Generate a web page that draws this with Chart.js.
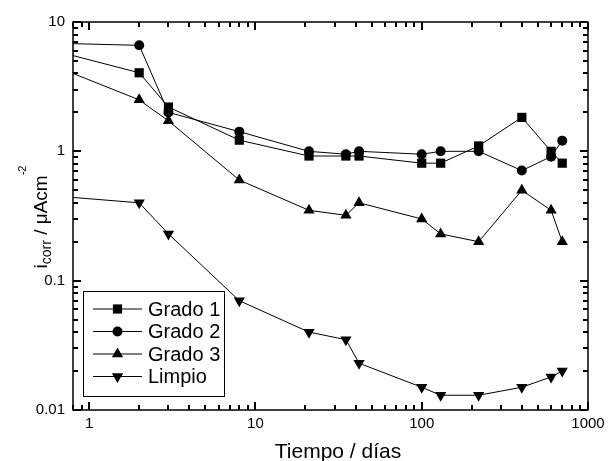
<!DOCTYPE html>
<html>
<head>
<meta charset="utf-8">
<script src="https://cdn.jsdelivr.net/npm/chart.js@4/dist/chart.umd.min.js"></script>
<style>
  html, body { margin: 0; padding: 0; background: #fff; }
  #grafico { display: block; }
</style>
</head>
<body>
<canvas id="grafico" width="610" height="461"></canvas>
<script>
// tiempo en días (el primer punto queda en el borde del eje)
const dias = [0.8, 2, 3, 8, 21, 35, 42, 100, 130, 220, 400, 600, 700];

const grado1 = [5.5, 4.05, 2.2, 1.22, 0.92, 0.92, 0.92, 0.81, 0.81, 1.1, 1.83, 1.0, 0.81];
const grado2 = [6.8, 6.6, 2.0, 1.42, 1.0, 0.95, 1.0, 0.95, 1.0, 1.0, 0.71, 0.91, 1.21];
const grado3 = [4.0, 2.5, 1.72, 0.6, 0.35, 0.32, 0.4, 0.3, 0.23, 0.2, 0.5, 0.35, 0.2];
const limpio = [0.44, 0.40, 0.23, 0.07, 0.04, 0.035, 0.023, 0.015, 0.013, 0.013, 0.015, 0.018, 0.02];

const etiquetas = ['Grado 1', 'Grado 2', 'Grado 3', 'Limpio'];
const ejeX = { min: 0.8, max: 1000, titulo: 'Tiempo / días' };
const ejeY = { min: 0.01, max: 10 };

const FUENTE = "'Liberation Sans', Arial, sans-serif";

const esDecada = v => {
    const l = Math.log10(v);
    return Math.abs(l - Math.round(l)) < 1e-9;
};

// valores 1..9 x 10^n dentro del rango, para las marcas del eje
function marcasLog(min, max) {
    const out = [];
    for (let e = Math.floor(Math.log10(min)); e <= Math.ceil(Math.log10(max)); e++) {
        for (let k = 1; k <= 9; k++) {
            const v = k * Math.pow(10, e);
            if (v >= min * 0.9999 && v <= max * 1.0001) out.push({ v, mayor: k === 1 });
        }
    }
    return out;
}

// estilo de marcador por serie
const marcadores = [
    { estilo: 'rect', radio: 6.5, rot: 0 },
    { estilo: 'circle', radio: 5, rot: 0 },
    { estilo: 'triangle', radio: 6.5, rot: 0 },
    { estilo: 'triangle', radio: 6.5, rot: 180 }
];

function serie(label, valores, m) {
    return {
        label,
        data: dias.map((d, i) => ({ x: d, y: valores[i] })),
        showLine: true,
        borderColor: '#000',
        borderWidth: 1,
        backgroundColor: '#000',
        pointBackgroundColor: '#000',
        pointBorderColor: '#000',
        pointBorderWidth: 0,
        pointStyle: m.estilo,
        pointRotation: m.rot,
        pointRadius: dias.map((d, i) => i === 0 ? 0 : m.radio),
        pointHoverRadius: 0,
        tension: 0
    };
}

function dibujaMarcador(ctx, m, x, y) {
    ctx.beginPath();
    if (m.estilo === 'circle') {
        ctx.arc(x, y, m.radio, 0, Math.PI * 2);
    } else if (m.estilo === 'rect') {
        const s = m.radio * Math.SQRT1_2;
        ctx.rect(x - s, y - s, 2 * s, 2 * s);
    } else {
        let a = m.rot * Math.PI / 180;
        ctx.moveTo(x + Math.sin(a) * m.radio, y - Math.cos(a) * m.radio);
        a += Math.PI * 2 / 3;
        ctx.lineTo(x + Math.sin(a) * m.radio, y - Math.cos(a) * m.radio);
        a += Math.PI * 2 / 3;
        ctx.lineTo(x + Math.sin(a) * m.radio, y - Math.cos(a) * m.radio);
        ctx.closePath();
    }
    ctx.fill();
}

const extras = {
    id: 'extras',
    afterDraw(chart) {
        const ctx = chart.ctx;
        const a = chart.chartArea;
        const xs = chart.scales.x, ys = chart.scales.y;
        ctx.save();
        ctx.strokeStyle = '#000';
        ctx.fillStyle = '#000';

        // marcas hacia dentro en los cuatro lados
        ctx.lineWidth = 2;
        ctx.lineCap = 'butt';
        marcasLog(ejeX.min, ejeX.max).forEach(t => {
            const px = Math.round(xs.getPixelForValue(t.v));
            const len = t.mayor ? 8 : 5;
            ctx.beginPath();
            ctx.moveTo(px, a.bottom); ctx.lineTo(px, a.bottom - len);
            ctx.moveTo(px, a.top); ctx.lineTo(px, a.top + len);
            ctx.stroke();
        });
        marcasLog(ejeY.min, ejeY.max).forEach(t => {
            const py = Math.round(ys.getPixelForValue(t.v));
            const len = t.mayor ? 8 : 5;
            ctx.beginPath();
            ctx.moveTo(a.left, py); ctx.lineTo(a.left + len, py);
            ctx.moveTo(a.right, py); ctx.lineTo(a.right - len, py);
            ctx.stroke();
        });

        // marco
        ctx.lineWidth = 1.5;
        ctx.strokeRect(a.left, a.top, a.right - a.left, a.bottom - a.top);

        // título eje X
        ctx.font = `21px ${FUENTE}`;
        ctx.textAlign = 'center';
        ctx.textBaseline = 'middle';
        ctx.fillText(ejeX.titulo, 338, 452);

        // título eje Y: i_corr / μAcm^-2
        const partes = [
            { t: 'i', f: 19, dy: 0 },
            { t: 'corr', f: 14, dy: 4 },
            { t: ' / μAcm', f: 19, dy: 0 },
            { t: '-2', f: 11, dy: -21 }
        ];
        let total = 0;
        partes.forEach(p => { ctx.font = `${p.f}px ${FUENTE}`; p.w = ctx.measureText(p.t).width; total += p.w; });
        ctx.translate(47, 217 + total / 2);
        ctx.rotate(-Math.PI / 2);
        ctx.textAlign = 'left';
        ctx.textBaseline = 'alphabetic';
        let pos = 0;
        partes.forEach(p => {
            ctx.font = `${p.f}px ${FUENTE}`;
            ctx.fillText(p.t, pos, p.dy);
            pos += p.w;
        });
        ctx.setTransform(1, 0, 0, 1, 0, 0);

        // leyenda
        ctx.lineWidth = 1;
        ctx.strokeRect(83.5, 291.5, 141, 105);
        ctx.font = `20px ${FUENTE}`;
        ctx.textBaseline = 'middle';
        chart.data.datasets.forEach((ds, i) => {
            const y = 309 + i * 22.5;
            ctx.beginPath();
            ctx.moveTo(93, y); ctx.lineTo(142, y);
            ctx.stroke();
            dibujaMarcador(ctx, marcadores[i], 117.5, y);
            ctx.fillText(ds.label, 148, y + 1);
        });
        ctx.restore();
    }
};

new Chart(document.getElementById('grafico'), {
    type: 'scatter',
    data: {
        datasets: [
            serie(etiquetas[0], grado1, marcadores[0]),
            serie(etiquetas[1], grado2, marcadores[1]),
            serie(etiquetas[2], grado3, marcadores[2]),
            serie(etiquetas[3], limpio, marcadores[3])
        ]
    },
    options: {
        responsive: false,
        animation: false,
        devicePixelRatio: 1,
        layout: { padding: { top: 22, right: 22, left: 0, bottom: 0 } },
        plugins: { legend: { display: false }, tooltip: { enabled: false } },
        scales: {
            x: {
                type: 'logarithmic',
                position: 'bottom',
                min: ejeX.min, max: ejeX.max,
                grid: { display: false, drawTicks: false },
                border: { display: false },
                ticks: {
                    color: '#000',
                    font: { family: FUENTE, size: 15 },
                    padding: 5,
                    autoSkip: false,
                    maxRotation: 0,
                    callback: v => esDecada(v) ? String(v) : ''
                },
                afterFit: s => { s.height = 51; }
            },
            y: {
                type: 'logarithmic',
                position: 'left',
                min: ejeY.min, max: ejeY.max,
                grid: { display: false, drawTicks: false },
                border: { display: false },
                ticks: {
                    color: '#000',
                    font: { family: FUENTE, size: 15 },
                    padding: 8,
                    autoSkip: false,
                    callback: v => esDecada(v) ? String(v) : ''
                },
                afterFit: s => { s.width = 73; }
            }
        }
    },
    plugins: [extras]
});
</script>
</body>
</html>
